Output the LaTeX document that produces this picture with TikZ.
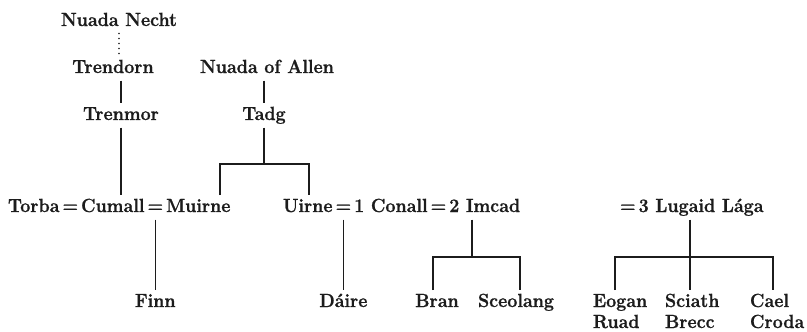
\documentclass[tikz,border=0pt]{standalone}
\usepackage{fontspec}
\setmainfont{Latin Modern Roman}[BoldFeatures={FakeBold=1.0, FakeStretch=0.94}]
\definecolor{ink}{HTML}{1C1C1C}
\begin{document}
\begin{tikzpicture}[x=1pt,y=-1pt,
  person/.style={font=\fontsize{19}{22}\selectfont\bfseries, text=ink,
    inner sep=0pt, outer xsep=0pt, outer ysep=4pt,
    text height=13pt, text depth=3.5pt, anchor=base},
  chain/.style={person, anchor=base west},
  line/.style={draw=ink, line width=1.1pt},
  descent/.style={draw=ink, line width=1.8pt, dash pattern=on 0pt off 5pt, line cap=round}]
\useasboundingbox (0,0) rectangle (807,332);

% upper generations
\node[person] (necht)    at (119,26)  {Nuada Necht};
\node[person] (trendorn) at (113,73)  {Trendorn};
\node[person] (allen)    at (267,73)  {Nuada of Allen};
\node[person] (trenmor)  at (121,120) {Trenmor};
\node[person] (tadg)     at (264,120) {Tadg};

% marriages: Torba = Cumall = Muirne
\node[chain] (torba)  at (8,212) {Torba};
\node[chain] (mA)     at ([xshift=3pt]torba.base east) {=};
\node[chain] (cumall) at ([xshift=3pt]mA.base east) {Cumall};
\node[chain] (mB)     at ([xshift=3pt]cumall.base east) {=};
\node[chain] (muirne) at ([xshift=3pt]mB.base east) {Muirne};

% Uirne =1 Conall =2 Imcad =3 Lugaid Laga
\node[chain] (uirne)  at (283,212) {Uirne};
\node[chain] (mC)     at ([xshift=3pt]uirne.base east) {=};
\node[chain] (conall) at ([xshift=3pt]mC.base east) {1 Conall};
\node[chain] (mD)     at ([xshift=3pt]conall.base east) {=};
\node[chain] (imcad)  at ([xshift=3pt]mD.base east) {2 Imcad};
\node[chain] (mE)     at (620,212) {=};
\node[chain] (lugaid) at ([xshift=3pt]mE.base east) {3 Lugaid Lága};

% children
\node[person] (finn)  at (mB.base |- 0,307) {Finn};
\node[person] (daire) at (mC.base |- 0,307) {Dáire};
\node[person] (bran)  at (437,307) {Bran};
\node[person] (sceo)  at (516,307) {Sceolang};
\node[chain] (eogan)  at (593,307) {Eogan};
\node[chain] (eogan2) at (593,328) {Ruad};
\node[chain] (sciath) at (665,307) {Sciath};
\node[chain] (sciath2) at (665,328) {Brecc};
\node[chain] (cael)   at (750,307) {Cael};
\node[chain] (cael2)  at (750,328) {Croda};

% lines of descent
\draw[descent] (necht.south) -- (necht.south |- trendorn.north);
\draw[line] (trenmor.north |- trendorn.south) -- (trenmor.north);
\draw[line] (tadg.north |- allen.south) -- (tadg.north);
\draw[line] (trenmor.south) -- (trenmor.south |- cumall.north);

% children of Tadg
\coordinate (tbL) at (220,164);
\coordinate (tbR) at (309,164);
\draw[line] (tadg.south) -- (tadg.south |- tbL);
\draw[line] (tbL |- muirne.north) -- (tbL) -- (tbR) -- (tbR |- uirne.north);

% Finn and Daire
\draw[line] (mB.south) -- (finn.north);
\draw[line] (mC.south) -- (daire.north);

% children of Imcad
\coordinate (imJ) at (472,257);
\coordinate (imL) at (433,257);
\coordinate (imR) at (520,257);
\draw[line] (imJ |- imcad.south) -- (imJ);
\draw[line] (imL |- bran.north) -- (imL) -- (imR) -- (imR |- sceo.north);

% children of Lugaid Laga
\coordinate (lgJ) at (690,257);
\coordinate (lgL) at (615,257);
\coordinate (lgR) at (773,257);
\draw[line] (lgJ |- lugaid.south) -- (lgJ) -- (lgJ |- sciath.north);
\draw[line] (lgL |- eogan.north) -- (lgL) -- (lgR) -- (lgR |- cael.north);
\end{tikzpicture}
\end{document}
